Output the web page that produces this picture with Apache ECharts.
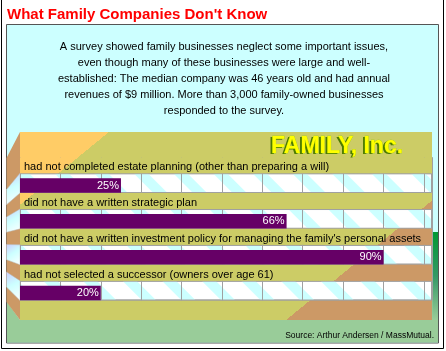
<!DOCTYPE html>
<html><head><meta charset="utf-8">
<script src="https://cdn.jsdelivr.net/npm/echarts@6/dist/echarts.min.js"></script>
<style>html,body{margin:0;padding:0;background:#fff}#c{width:446px;height:351px}</style>
</head><body><div id="c"></div>
<script>
// ---- data ----
const titleText = "What Family Companies Don't Know";
const introLines = [
  "A survey showed family businesses neglect some important issues,",
  "even though many of these businesses were large and well-",
  "established: The median company was 46 years old and had annual",
  "revenues of $9 million. More than 3,000 family-owned businesses",
  "responded to the survey."
];
const categories = [
  "had not completed estate planning (other than preparing a will)",
  "did not have a written strategic plan",
  "did not have a written investment policy for managing the family's personal assets",
  "had not selected a successor (owners over age 61)"
];
const percentValues = [25, 66, 90, 20];
const logoText = "FAMILY, Inc.";
const sourceText = "Source: Arthur Andersen / MassMutual.";

// ---- layout / style ----
const FONT = "'Liberation Sans', Arial, sans-serif";
const xMax = 102;
const P = 35.83, rowsTop = 157.2, labelBandH = 16, rowH = P - labelBandH;
const shiftBar = 10.4;
const bandGrad = () => ({
  type: 'linear', global: true, x: 0, y: 0, x2: 315, y2: 385,
  colorStops: [
    {offset: 0, color: '#FFCC66'}, {offset: 0.344, color: '#FFCC66'},
    {offset: 0.344, color: '#CCCC66'}, {offset: 0.862, color: '#CCCC66'},
    {offset: 0.862, color: '#CC9966'}, {offset: 1, color: '#CC9966'}
  ]
});

const wallX0 = 6.5, wallX1 = 20, backTop = 132, backBot = 320, frontTop = 158, frontBot = 302;
const fy = yb => frontTop + (yb - backTop) * (frontBot - frontTop) / (backBot - backTop);
const wallEls = [{
  type: 'polygon', z: 0,
  shape: {points: [[wallX1, backTop], [wallX1, backBot], [wallX0, fy(backBot)], [wallX0, fy(backTop)]]},
  style: {fill: '#CC9966'}
}];
categories.forEach((c, i) => {
  const y0 = rowsTop + i * P + labelBandH, y1 = rowsTop + (i + 1) * P;
  wallEls.push({
    type: 'polygon', z: 0,
    shape: {points: [[wallX1, y0], [wallX1, y1], [wallX0, fy(y1)], [wallX0, fy(y0)]]},
    style: {
      fill: {type: 'linear', x: 0, y: 0, x2: 1, y2: 1, colorStops: [
        {offset: 0, color: '#CCCCFF'}, {offset: 0.45, color: '#CCFFFF'}, {offset: 1, color: '#FFFFFF'}]},
      stroke: '#BBBBBB', lineWidth: 0.5
    }
  });
});

const chart = echarts.init(document.getElementById('c'));
chart.setOption({
  animation: false,
  backgroundColor: '#FFFFFF',
  grid: [
    {left: 20, right: 14, top: rowsTop, height: 4 * P},
    {left: 20, right: 14, top: rowsTop + shiftBar, height: 4 * P}
  ],
  xAxis: [
    {gridIndex: 0, type: 'value', min: 0, max: xMax, interval: 10, z: 2,
     axisLine: {show: false}, axisTick: {show: false}, axisLabel: {show: false},
     splitLine: {show: true, lineStyle: {color: '#A0A0A0', width: 1}}},
    {gridIndex: 1, type: 'value', min: 0, max: xMax, interval: 10, show: false,
     splitLine: {show: false}}
  ],
  yAxis: [
    {gridIndex: 0, type: 'category', data: categories, inverse: true, show: false},
    {gridIndex: 1, type: 'category', data: categories, inverse: true, show: false}
  ],
  graphic: [
    {type: 'polyline', z: 0, shape: {points: [[1.5, 0], [1.5, 348.5], [443.5, 348.5], [443.5, 0]]},
     style: {stroke: '#000', lineWidth: 1, fill: null}},
    {type: 'rect', z: 0, shape: {x: 6.5, y: 24.5, width: 432, height: 318.5},
     style: {fill: '#CCFFFF', stroke: '#555555', lineWidth: 1}},
    {type: 'polygon', z: 0,
     shape: {points: [[7, fy(backBot)], [20, 320], [432, 320], [432, 232], [438, 232], [438, 342.5], [7, 342.5]]},
     style: {fill: '#99CC99'}},
    {type: 'rect', z: 0, shape: {x: 432.5, y: 232, width: 5.5, height: 88},
     style: {fill: {type: 'linear', x: 0, y: 0, x2: 0, y2: 1, colorStops: [
       {offset: 0, color: '#009933'}, {offset: 0.5, color: '#339966'}, {offset: 1, color: '#99CC99'}]}}},
    {type: 'rect', z: 0, shape: {x: 20, y: backTop, width: 412, height: backBot - backTop},
     style: {fill: bandGrad()}},
    ...wallEls,
    {type: 'text', z: 5, style: {text: titleText, x: 7, y: 15, font: 'bold 15px ' + FONT,
      fill: '#FF0000', textVerticalAlign: 'middle'}},
    {type: 'text', z: 5, style: {text: introLines.join('\n'), x: 224, y: 39, font: '11px ' + FONT,
      lineHeight: 16, fill: '#000000', textAlign: 'center', textVerticalAlign: 'top'}},
    {type: 'text', z: 10, style: {text: logoText, x: 269, y: 148, font: 'bold 23px ' + FONT,
      fill: '#4D7A00', textVerticalAlign: 'middle'}},
    {type: 'text', z: 11, style: {text: logoText, x: 271, y: 147, font: 'bold 23px ' + FONT,
      fill: '#FFFF00', stroke: '#99CC00', lineWidth: 0.5, textVerticalAlign: 'middle'}},
    {type: 'text', z: 5, style: {text: sourceText, x: 434, y: 336, font: '8.5px ' + FONT,
      fill: '#000000', textAlign: 'right', textVerticalAlign: 'middle'}}
  ],
  series: [
    {
      name: 'labelBand', type: 'bar', xAxisIndex: 0, yAxisIndex: 0, z: 3, silent: true,
      data: categories.map(() => xMax), barWidth: labelBandH, barGap: '0%', barCategoryGap: '0%',
      itemStyle: {color: bandGrad()},
      label: {show: true, position: 'insideLeft', distance: 4, offset: [0, 2],
        formatter: p => p.name, color: '#000', fontSize: 11, fontFamily: FONT}
    },
    {
      name: 'row', type: 'bar', xAxisIndex: 0, yAxisIndex: 0, z: 1, silent: true,
      data: categories.map(() => xMax), barWidth: rowH, barGap: '0%', barCategoryGap: '0%',
      itemStyle: {color: '#FFFFFF', borderColor: '#A0A0A0', borderWidth: 1,
        decal: {symbol: 'rect', symbolSize: 1, color: '#CCFFFF',
          dashArrayX: [[10, 18]], dashArrayY: [10, 0], rotation: -Math.PI / 4}}
    },
    {
      name: 'percent', type: 'bar', xAxisIndex: 1, yAxisIndex: 1, z: 4,
      data: percentValues, barWidth: 14.5,
      itemStyle: {color: '#660066'},
      label: {show: true, position: 'insideRight', distance: 2, formatter: '{c}%',
        color: '#FFFFFF', fontSize: 11, fontFamily: FONT}
    }
  ]
});
</script></body></html>
